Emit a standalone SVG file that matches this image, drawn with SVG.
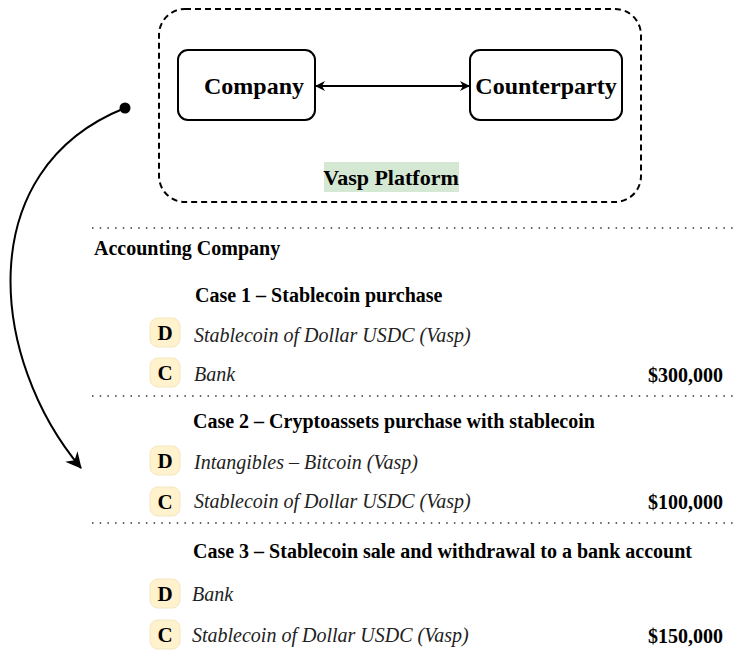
<svg xmlns="http://www.w3.org/2000/svg" width="738" height="657" viewBox="0 0 738 657">
<style>
.b{font-family:"Liberation Serif","Times New Roman",serif;font-weight:bold;fill:#000}
.i{font-family:"Liberation Serif","Times New Roman",serif;font-style:italic;fill:#222;font-size:20px}
.box{fill:#fff;stroke:#000;stroke-width:2}
.badge{fill:#fff2cc;stroke:#f3e6c0;stroke-width:1}
.dot{stroke:#333;stroke-width:1.6;stroke-dasharray:1.5 6.2;fill:none}
.bl{font-family:"Liberation Serif","Times New Roman",serif;font-weight:bold;font-size:21px;text-anchor:middle;fill:#000}
</style>
<defs>
<marker id="ah" viewBox="0 0 10 10" refX="9" refY="5" markerWidth="10" markerHeight="10" orient="auto-start-reverse" markerUnits="userSpaceOnUse"><path d="M0,0 L10,5 L0,10 L3,5 Z" fill="#000"/></marker>
<marker id="ah2" viewBox="0 0 16 16" refX="15" refY="8" markerWidth="16" markerHeight="16" orient="auto" markerUnits="userSpaceOnUse"><path d="M0,0 L16,8 L0,16 L5,8 Z" fill="#000"/></marker>
</defs>
<rect width="738" height="657" fill="#fff"/>
<g id="platform">
<rect x="159" y="9" width="482" height="193" rx="26" fill="none" stroke="#000" stroke-width="2" stroke-dasharray="6 4"/>
<rect x="324" y="162" width="135" height="30" fill="#d5e8d4"/>
<text class="b" x="391" y="185" font-size="22" text-anchor="middle">Vasp Platform</text>
</g>
<g id="company">
<rect class="box" x="178" y="50" width="137" height="70" rx="10"/>
<text class="b" x="254" y="94" font-size="24" text-anchor="middle">Company</text>
</g>
<g id="counterparty">
<rect class="box" x="470" y="50" width="152" height="70" rx="10"/>
<text class="b" x="546" y="94" font-size="24" text-anchor="middle">Counterparty</text>
</g>
<g id="connectors">
<line x1="316" y1="86" x2="469" y2="86" stroke="#000" stroke-width="2" marker-start="url(#ah)" marker-end="url(#ah)"/>
<circle cx="125" cy="108" r="5.5" fill="#000"/>
<path d="M125,108 C-30,170 -10,360 81,468" fill="none" stroke="#000" stroke-width="2" marker-end="url(#ah2)"/>
</g>
<g id="separators">
<line class="dot" x1="92" y1="228" x2="735" y2="228"/>
<line class="dot" x1="92" y1="396" x2="735" y2="396"/>
<line class="dot" x1="92" y1="523" x2="735" y2="523"/>
</g>
<g id="accounting">
<text class="b" x="94" y="255" font-size="20">Accounting Company</text>
</g>
<g id="case1">
<text class="b" x="195" y="302" font-size="20">Case 1 – Stablecoin purchase</text>
<rect class="badge" x="150" y="318" width="30" height="29" rx="8"/>
<text class="bl" x="165" y="340">D</text>
<text class="i" x="194" y="342">Stablecoin of Dollar USDC (Vasp)</text>
<rect class="badge" x="150" y="358" width="30" height="29" rx="8"/>
<text class="bl" x="165" y="380">C</text>
<text class="i" x="194" y="381">Bank</text>
<text class="b" x="723" y="382" font-size="20" text-anchor="end">$300,000</text>
</g>
<g id="case2">
<text class="b" x="193" y="428" font-size="20">Case 2 – Cryptoassets purchase with stablecoin</text>
<rect class="badge" x="150" y="446" width="30" height="29" rx="8"/>
<text class="bl" x="165" y="468">D</text>
<text class="i" x="194" y="469">Intangibles – Bitcoin (Vasp)</text>
<rect class="badge" x="150" y="487" width="30" height="29" rx="8"/>
<text class="bl" x="165" y="509">C</text>
<text class="i" x="194" y="508">Stablecoin of Dollar USDC (Vasp)</text>
<text class="b" x="723" y="509" font-size="20" text-anchor="end">$100,000</text>
</g>
<g id="case3">
<text class="b" x="193" y="558" font-size="20">Case 3 – Stablecoin sale and withdrawal to a bank account</text>
<rect class="badge" x="150" y="579" width="30" height="29" rx="8"/>
<text class="bl" x="165" y="601">D</text>
<text class="i" x="192" y="601">Bank</text>
<rect class="badge" x="150" y="620" width="30" height="29" rx="8"/>
<text class="bl" x="165" y="642">C</text>
<text class="i" x="192" y="642">Stablecoin of Dollar USDC (Vasp)</text>
<text class="b" x="723" y="643" font-size="20" text-anchor="end">$150,000</text>
</g>
</svg>
